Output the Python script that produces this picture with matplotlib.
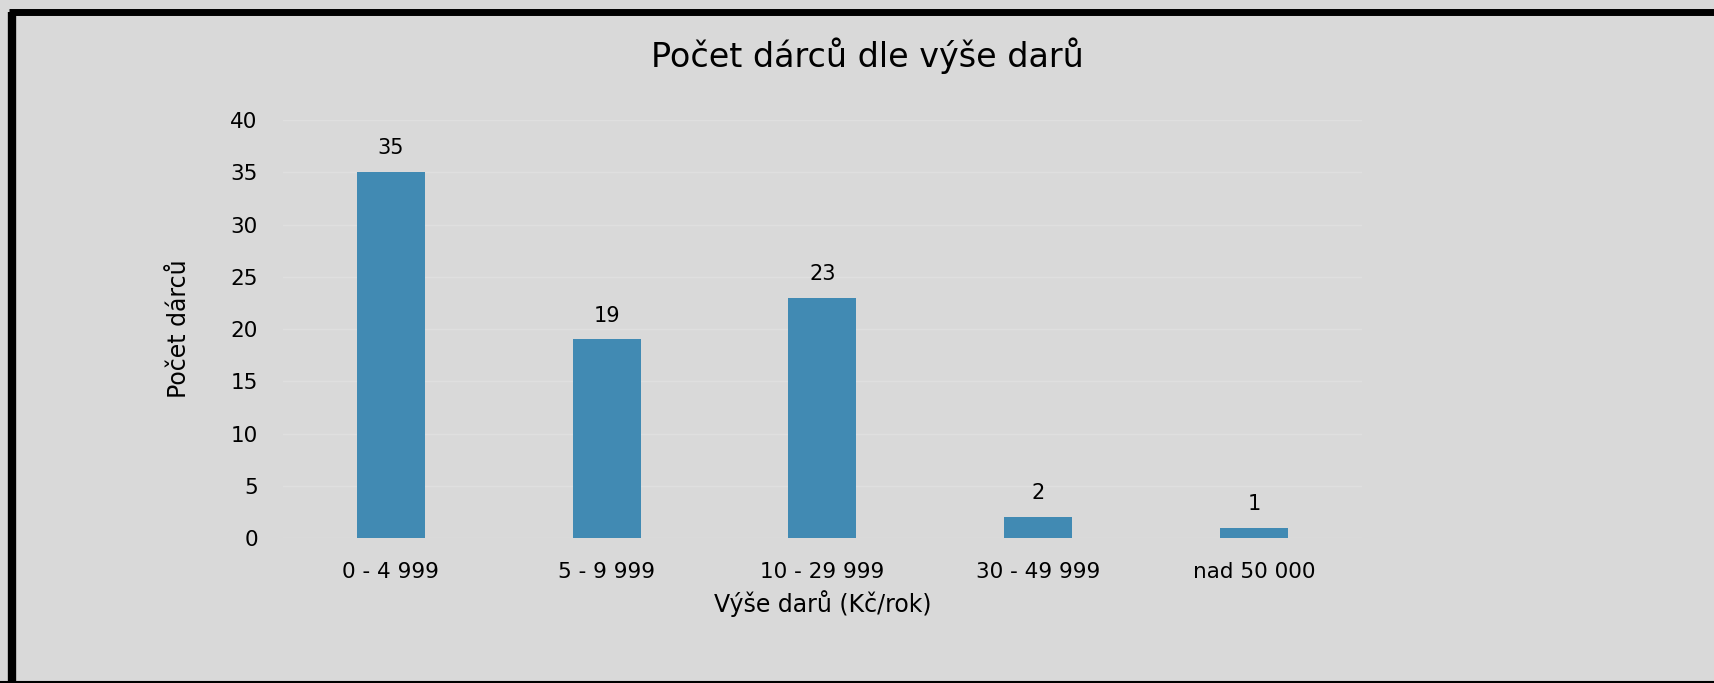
import numpy as np
import matplotlib
matplotlib.use("Agg")
import matplotlib.pyplot as plt
from matplotlib.lines import Line2D

# donor counts by yearly donation bracket
categories = ["0 - 4 999", "5 - 9 999", "10 - 29 999", "30 - 49 999", "nad 50 000"]
donors = [35, 19, 23, 2, 1]
yticks = [0, 5, 10, 15, 20, 25, 30, 35, 40]

bg = "#d9d9d9"
bar_color = "#418ab3"

plt.rcParams['font.family'] = ['DejaVu Sans']

fig = plt.figure(figsize=(17.14, 6.83), dpi=100)
fig.patch.set_facecolor(bg)
ax = fig.add_axes([0.165, 0.2123, 0.6296, 0.612])
ax.set_facecolor(bg)

x = np.arange(len(categories))
bars = ax.bar(x, donors, width=0.315, color=bar_color, zorder=3)

for b, v in zip(bars, donors):
    ax.annotate(str(v), (b.get_x() + b.get_width() / 2, v), xytext=(0, 10),
                textcoords="offset points", ha="center", va="bottom", fontsize=15)

ax.set_xlim(-0.5, len(categories) - 0.5)
ax.set_ylim(0, 40)
ax.set_yticks(yticks)
ax.set_xticks(x)
ax.set_xticklabels(categories, fontsize=15.5)
ax.tick_params(axis="y", labelsize=15.5, length=0, pad=18)
ax.tick_params(axis="x", length=0, pad=17)
ax.grid(axis="y", color="#dfdfdf", lw=1, zorder=0)
for s in ax.spines.values():
    s.set_visible(False)

ax.set_xlabel("Výše darů (Kč/rok)", fontsize=17, labelpad=6)
ax.set_ylabel("Počet dárců", fontsize=17, labelpad=28)
fig.text(0.506, 0.918, "Počet dárců dle výše darů", ha="center", va="center", fontsize=24)

# black frame around the slide
fig.add_artist(Line2D([0.007, 0.007], [0.0, 0.983], color="black", lw=6,
                      solid_capstyle="butt", transform=fig.transFigure))
fig.add_artist(Line2D([0.0052, 1.0], [0.983, 0.983], color="black", lw=5,
                      solid_capstyle="butt", transform=fig.transFigure))
fig.add_artist(Line2D([0.0, 1.0], [0.002, 0.002], color="black", lw=1.5, transform=fig.transFigure))

plt.savefig("out.png", dpi=100, facecolor=bg)
